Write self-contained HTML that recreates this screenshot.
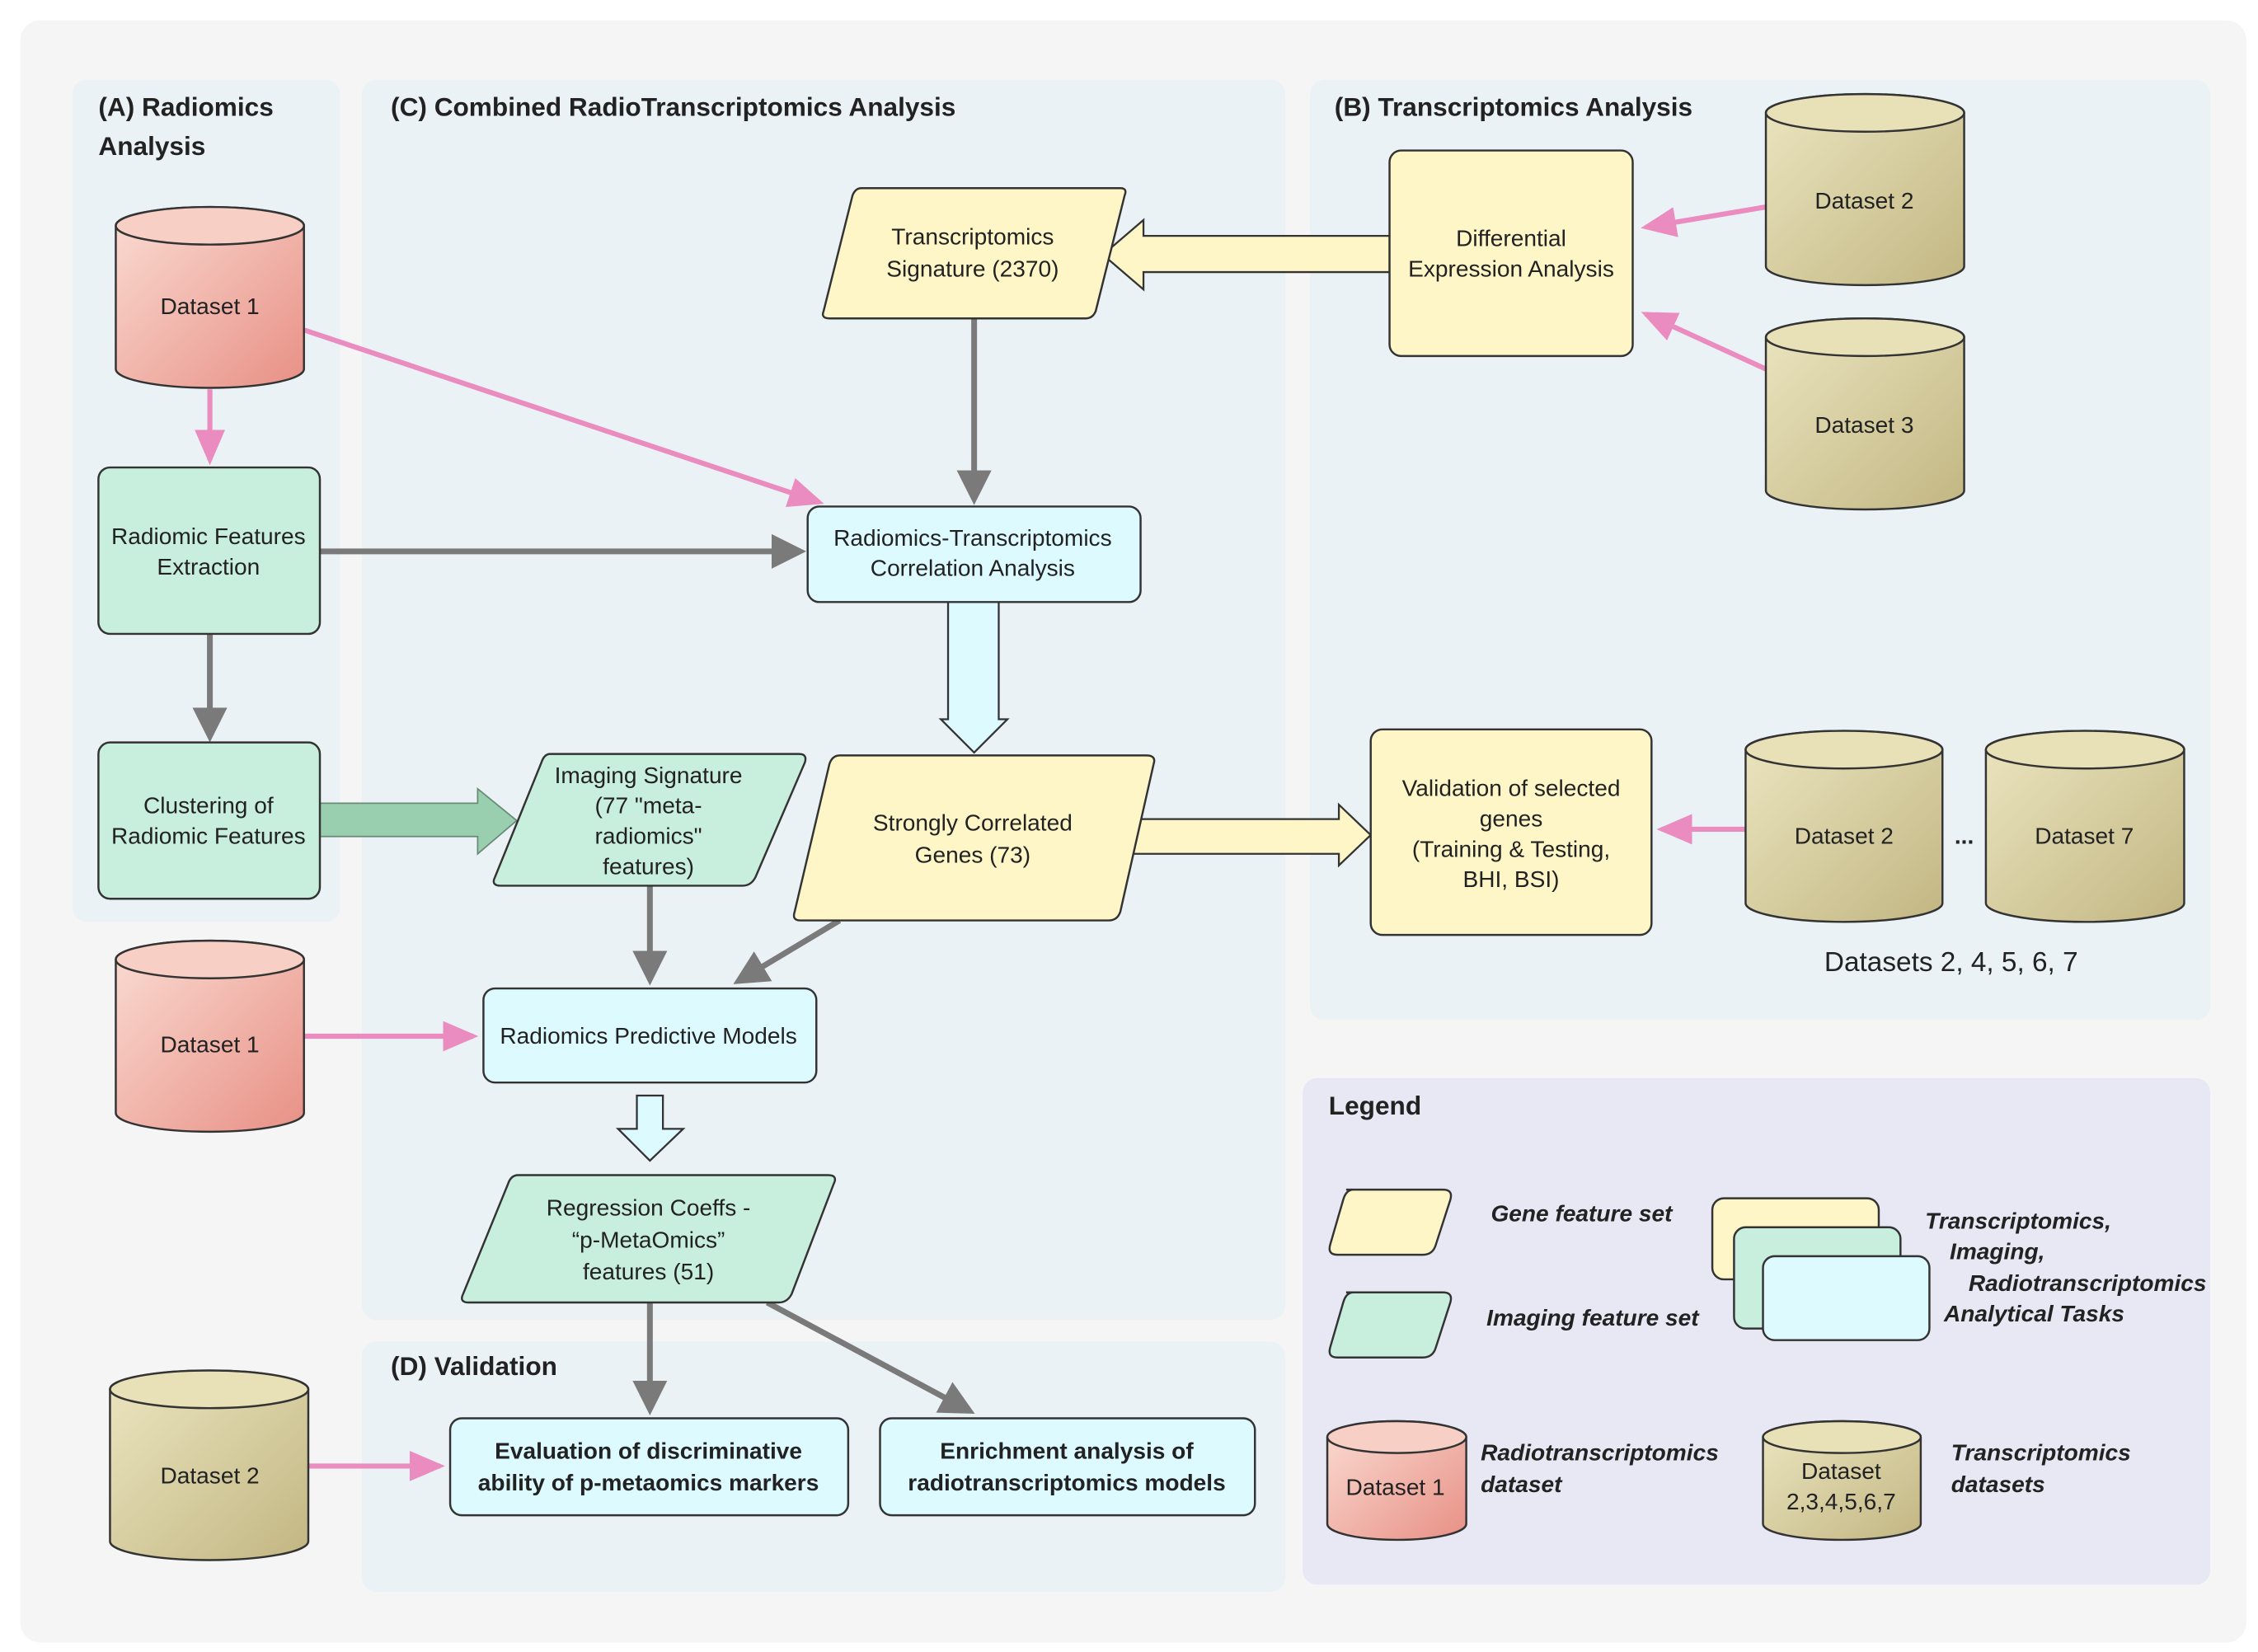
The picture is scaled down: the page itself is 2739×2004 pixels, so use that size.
<!DOCTYPE html>
<html><head><meta charset="utf-8"><style>
html,body{margin:0;padding:0;background:#fff;}
svg{display:block;}
text{font-family:"Liberation Sans",sans-serif;fill:#222;}
.t{font-size:16px;text-anchor:middle;}
.h{font-size:18px;font-weight:bold;}
.li{font-size:16px;font-weight:bold;font-style:italic;}
</style></head><body>
<svg width="2739" height="2004" viewBox="0 0 1560 1141.5" preserveAspectRatio="none" xmlns="http://www.w3.org/2000/svg">
<defs>
<linearGradient id="red" x1="0" y1="0" x2="1" y2="1"><stop offset="0" stop-color="#fadcd3"/><stop offset="1" stop-color="#e89085"/></linearGradient>
<linearGradient id="tan" x1="0" y1="0" x2="1" y2="1"><stop offset="0" stop-color="#ebe5c0"/><stop offset="1" stop-color="#c2b682"/></linearGradient>
<marker id="ag" markerWidth="6" markerHeight="6" refX="5" refY="3" orient="auto" markerUnits="strokeWidth"><path d="M0,0 L6,3 L0,6 Z" fill="#7a7a7a"/></marker>
<marker id="ap" markerWidth="7" markerHeight="6" refX="6" refY="3" orient="auto" markerUnits="strokeWidth"><path d="M0,0 L7,3 L0,6 Z" fill="#ea8cbf"/></marker>
</defs>
<rect x="0" y="0" width="1560" height="1141.5" fill="#fff"/>
<rect x="14" y="14" width="1538" height="1121" rx="14" fill="#f5f5f5"/>
<rect x="50" y="55" width="185" height="582" rx="10" fill="#ebf2f5"/>
<rect x="250" y="55" width="638" height="857" rx="10" fill="#ebf2f5"/>
<rect x="905" y="55" width="622" height="650" rx="10" fill="#ebf2f5"/>
<rect x="250" y="927" width="638" height="173" rx="10" fill="#ebf2f5"/>
<rect x="900" y="745" width="627" height="350" rx="10" fill="#e8e8f5"/>

<text class="h" x="68" y="80">(A) Radiomics</text>
<text class="h" x="68" y="107">Analysis</text>
<text class="h" x="270" y="80">(C) Combined RadioTranscriptomics Analysis</text>
<text class="h" x="922" y="80">(B) Transcriptomics Analysis</text>
<text class="h" x="270" y="950">(D) Validation</text>
<text class="h" x="918" y="770">Legend</text>

<!-- connectors -->
<g stroke-width="3.5" fill="none">
<line x1="145" y1="269" x2="145" y2="318" stroke="#ea8cbf" marker-end="url(#ap)"/>
<line x1="210" y1="228" x2="566" y2="347" stroke="#ea8cbf" marker-end="url(#ap)"/>
<line x1="1220" y1="143" x2="1137" y2="157" stroke="#ea8cbf" marker-end="url(#ap)"/>
<line x1="1220" y1="255" x2="1137" y2="217" stroke="#ea8cbf" marker-end="url(#ap)"/>
<line x1="1206" y1="573" x2="1148" y2="573" stroke="#ea8cbf" marker-end="url(#ap)"/>
<line x1="210" y1="716" x2="327" y2="716" stroke="#ea8cbf" marker-end="url(#ap)"/>
<line x1="213" y1="1013" x2="304" y2="1013" stroke="#ea8cbf" marker-end="url(#ap)"/>
</g>
<g stroke="#7a7a7a" stroke-width="4" fill="none">
<line x1="221" y1="381" x2="553" y2="381" marker-end="url(#ag)"/>
<line x1="673" y1="220" x2="673" y2="345" marker-end="url(#ag)"/>
<line x1="145" y1="438" x2="145" y2="509" marker-end="url(#ag)"/>
<line x1="449" y1="612" x2="449" y2="677" marker-end="url(#ag)"/>
<line x1="580" y1="636" x2="510" y2="678" marker-end="url(#ag)"/>
<line x1="449" y1="900" x2="449" y2="974" marker-end="url(#ag)"/>
<line x1="530" y1="900" x2="670" y2="975" marker-end="url(#ag)"/>
</g>
<!-- block arrows -->
<path d="M221,555 H330 V545 L357,567 L330,590 V578 H221 Z" fill="#99cfae" stroke="#6a8a78" stroke-width="1"/>
<path d="M960,163 H790 V152 L762,176 L790,200 V188 H960 Z" fill="#fff6c8" stroke="#333" stroke-width="1.3"/>
<path d="M655,416 H690 V497 H696 L673,520 L650,497 H655 Z" fill="#dcfaff" stroke="#333" stroke-width="1.3"/>
<path d="M778,566 H925 V556 L947,577 L925,598 V590 H778 Z" fill="#fff6c8" stroke="#333" stroke-width="1.3"/>
<path d="M440,757 H458 V780 H472 L449,802 L427,780 H440 Z" fill="#dcfaff" stroke="#333" stroke-width="1.3"/>

<!-- nodes -->
<g stroke="#333" stroke-width="1.4">
<path d="M80,156 A65,13 0 0 1 210,156 V255 A65,13 0 0 1 80,255 Z" fill="url(#red)"/><ellipse cx="145" cy="156" rx="65" ry="13" fill="#f7cfc5"/>
<path d="M80,663 A65,13 0 0 1 210,663 V769 A65,13 0 0 1 80,769 Z" fill="url(#red)"/><ellipse cx="145" cy="663" rx="65" ry="13" fill="#f7cfc5"/>
<path d="M76,960 A68.5,13 0 0 1 213,960 V1065 A68.5,13 0 0 1 76,1065 Z" fill="url(#tan)"/><ellipse cx="144.5" cy="960" rx="68.5" ry="13" fill="#e8e1b8"/>
<path d="M1220,78 A68.5,13 0 0 1 1357,78 V184 A68.5,13 0 0 1 1220,184 Z" fill="url(#tan)"/><ellipse cx="1288.5" cy="78" rx="68.5" ry="13" fill="#e8e1b8"/>
<path d="M1220,233 A68.5,13 0 0 1 1357,233 V339 A68.5,13 0 0 1 1220,339 Z" fill="url(#tan)"/><ellipse cx="1288.5" cy="233" rx="68.5" ry="13" fill="#e8e1b8"/>
<path d="M1206,518 A68,13 0 0 1 1342,518 V624 A68,13 0 0 1 1206,624 Z" fill="url(#tan)"/><ellipse cx="1274" cy="518" rx="68" ry="13" fill="#e8e1b8"/>
<path d="M1372,518 A68.5,13 0 0 1 1509,518 V624 A68.5,13 0 0 1 1372,624 Z" fill="url(#tan)"/><ellipse cx="1440.5" cy="518" rx="68.5" ry="13" fill="#e8e1b8"/>

<rect x="68" y="323" width="153" height="115" rx="8" fill="#c8eedd"/>
<rect x="68" y="513" width="153" height="108" rx="8" fill="#c8eedd"/>
<rect x="960" y="104" width="168" height="142" rx="8" fill="#fff6c8"/>
<rect x="558" y="350" width="230" height="66" rx="8" fill="#dcfaff"/>
<rect x="947" y="504" width="194" height="142" rx="8" fill="#fff6c8"/>
<rect x="334" y="683" width="230" height="65" rx="8" fill="#dcfaff"/>
<rect x="311" y="980" width="275" height="67" rx="8" fill="#dcfaff"/>
<rect x="608" y="980" width="259" height="67" rx="8" fill="#dcfaff"/>

<path d="M595,130 H774 Q779,130 777,135 L757,215 Q755,220 750,220 H573 Q567,220 569,215 L589,135 Q591,130 595,130 Z" fill="#fff6c8"/>
<path d="M580,522 H792 Q799,522 797,528 L774,630 Q772,636 766,636 H553 Q547,636 549,630 L573,528 Q575,522 580,522 Z" fill="#fff6c8"/>
<path d="M380,521 H552 Q558,521 556,527 L522,606 Q519,612 513,612 H346 Q339,612 342,606 L374,527 Q376,521 380,521 Z" fill="#c8eedd"/>
<path d="M358,812 H572 Q579,812 576,818 L547,894 Q544,900 538,900 H324 Q317,900 320,894 L351,818 Q353,812 358,812 Z" fill="#c8eedd"/>

<!-- legend shapes -->
<path d="M930,822 H997 Q1004,822 1002,829 L992,860 Q990,867 983,867 H924 Q917,867 919,860 L928,829 Q930,822 935,822 Z" fill="#fff6c8"/>
<path d="M930,893 H997 Q1004,893 1002,900 L992,931 Q990,938 983,938 H924 Q917,938 919,931 L928,900 Q930,893 935,893 Z" fill="#c8eedd"/>
<rect x="1183" y="828" width="115" height="56" rx="8" fill="#fff6c8"/>
<rect x="1198" y="848" width="115" height="70" rx="8" fill="#c8eedd"/>
<rect x="1218" y="868" width="115" height="58" rx="8" fill="#dcfaff"/>
<path d="M917,993 A48,11 0 0 1 1013,993 V1053 A48,11 0 0 1 917,1053 Z" fill="url(#red)"/><ellipse cx="965" cy="993" rx="48" ry="11" fill="#f7cfc5"/>
<path d="M1218,993 A54.5,11 0 0 1 1327,993 V1053 A54.5,11 0 0 1 1218,1053 Z" fill="url(#tan)"/><ellipse cx="1272.5" cy="993" rx="54.5" ry="11" fill="#e8e1b8"/>
</g>

<!-- labels -->
<text class="t" x="145" y="217">Dataset 1</text>
<text class="t" x="145" y="727">Dataset 1</text>
<text class="t" x="145" y="1025">Dataset 2</text>
<text class="t" x="1288" y="144">Dataset 2</text>
<text class="t" x="1288" y="299">Dataset 3</text>
<text class="t" x="1274" y="583">Dataset 2</text>
<text class="t" x="1440" y="583">Dataset 7</text>
<text class="t" x="1357" y="583" style="font-weight:bold">...</text>
<text class="t" x="1348" y="671" style="font-size:19px">Datasets 2, 4, 5, 6, 7</text>
<text class="t" x="144" y="376">Radiomic Features</text>
<text class="t" x="144" y="397">Extraction</text>
<text class="t" x="144" y="562">Clustering of</text>
<text class="t" x="144" y="583">Radiomic Features</text>
<text class="t" x="1044" y="170">Differential</text>
<text class="t" x="1044" y="191">Expression Analysis</text>
<text class="t" x="672" y="169">Transcriptomics</text>
<text class="t" x="672" y="191">Signature (2370)</text>
<text class="t" x="672" y="377">Radiomics-Transcriptomics</text>
<text class="t" x="672" y="398">Correlation Analysis</text>
<text class="t" x="672" y="574">Strongly Correlated</text>
<text class="t" x="672" y="596">Genes (73)</text>
<text class="t" x="448" y="541">Imaging Signature</text>
<text class="t" x="448" y="562">(77 "meta-</text>
<text class="t" x="448" y="583">radiomics"</text>
<text class="t" x="448" y="604">features)</text>
<text class="t" x="1044" y="550">Validation of selected</text>
<text class="t" x="1044" y="571">genes</text>
<text class="t" x="1044" y="592">(Training &amp; Testing,</text>
<text class="t" x="1044" y="613">BHI, BSI)</text>
<text class="t" x="448" y="721">Radiomics Predictive Models</text>
<text class="t" x="448" y="840">Regression Coeffs -</text>
<text class="t" x="448" y="862">“p-MetaOmics”</text>
<text class="t" x="448" y="884">features (51)</text>
<text class="t" x="448" y="1008" style="font-weight:bold">Evaluation of discriminative</text>
<text class="t" x="448" y="1030" style="font-weight:bold">ability of p-metaomics markers</text>
<text class="t" x="737" y="1008" style="font-weight:bold">Enrichment analysis of</text>
<text class="t" x="737" y="1030" style="font-weight:bold">radiotranscriptomics models</text>

<text class="li" x="1030" y="844">Gene feature set</text>
<text class="li" x="1027" y="916">Imaging feature set</text>
<text class="li" x="1330" y="849">Transcriptomics,</text>
<text class="li" x="1347" y="870">Imaging,</text>
<text class="li" x="1360" y="892">Radiotranscriptomics</text>
<text class="li" x="1343" y="913">Analytical Tasks</text>
<text class="li" x="1023" y="1009">Radiotranscriptomics</text>
<text class="li" x="1023" y="1031">dataset</text>
<text class="li" x="1348" y="1009">Transcriptomics</text>
<text class="li" x="1348" y="1031">datasets</text>
<text class="t" x="964" y="1033">Dataset 1</text>
<text class="t" x="1272" y="1022">Dataset</text>
<text class="t" x="1272" y="1043">2,3,4,5,6,7</text>
</svg>
</body></html>
